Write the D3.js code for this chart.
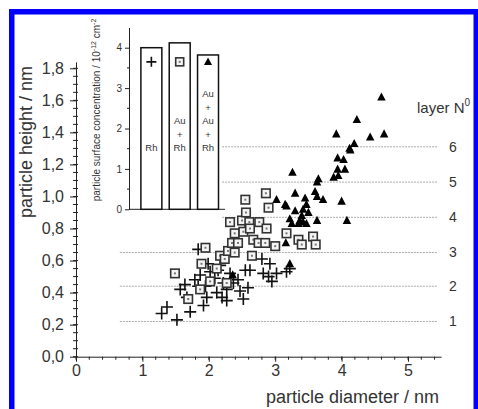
<!DOCTYPE html>
<html><head><meta charset="utf-8">
<script src="https://cdn.jsdelivr.net/npm/d3@7"></script>
<style>html,body{margin:0;padding:0;background:#fff;}svg{display:block;font-family:"Liberation Sans",Arial,sans-serif;}</style>
</head><body>
<svg id="c" width="478" height="409"></svg>
<script>
// ---- data ----
const rhPoints = [[1.29,0.27],[1.37,0.31],[1.52,0.23],[1.72,0.28],[1.92,0.32],[1.84,0.67],[1.79,0.48],[1.84,0.44],[1.67,0.37],[1.97,0.37],[1.99,0.58],[2.02,0.53],[2.09,0.49],[2.14,0.54],[2.27,0.35],[2.27,0.42],[2.22,0.46],[2.32,0.52],[2.37,0.46],[2.44,0.48],[2.52,0.36],[2.59,0.43],[2.55,0.54],[2.62,0.54],[2.80,0.61],[2.92,0.58],[2.82,0.52],[2.90,0.50],[2.95,0.47],[3.02,0.52],[3.17,0.53],[3.22,0.55],[2.17,0.57],[1.87,0.51],[1.64,0.45],[1.57,0.42],[2.12,0.40],[2.47,0.41],[1.95,0.44],[2.20,0.37]];
const auRhPoints = [[1.49,0.52],[1.69,0.36],[1.87,0.42],[2.02,0.47],[1.89,0.58],[1.95,0.68],[2.12,0.55],[2.17,0.63],[2.24,0.61],[2.29,0.66],[2.39,0.65],[2.35,0.71],[2.39,0.77],[2.52,0.78],[2.32,0.84],[2.50,0.85],[2.56,0.90],[2.55,0.98],[2.61,0.84],[2.76,0.84],[2.86,1.02],[2.90,0.93],[2.62,0.80],[2.87,0.80],[2.67,0.73],[2.75,0.71],[2.85,0.71],[3.00,0.69],[2.65,0.63],[3.17,0.77],[3.35,0.73],[3.40,0.70],[3.57,0.75],[3.61,0.70],[2.27,0.46],[2.44,0.71]];
const auAuRhPoints = [[4.60,1.62],[4.23,1.48],[3.92,1.39],[4.43,1.37],[4.64,1.39],[4.19,1.33],[4.12,1.30],[4.13,1.29],[3.94,1.24],[4.03,1.23],[3.94,1.17],[4.05,1.17],[3.95,1.13],[3.88,1.12],[3.26,1.15],[3.65,1.11],[3.63,1.09],[3.60,1.03],[3.30,1.02],[3.02,0.98],[3.15,0.95],[3.17,0.94],[3.45,0.99],[3.63,1.00],[3.72,0.98],[4.00,0.97],[3.47,0.95],[3.42,0.92],[3.30,0.91],[3.50,0.90],[3.40,0.88],[3.22,0.86],[3.25,0.83],[3.37,0.85],[3.42,0.84],[3.47,0.83],[3.35,0.83],[3.63,0.85],[4.08,0.85],[3.16,0.71],[3.22,0.58],[2.36,0.51]];
const layerNumbers = [1,2,3,4,5,6];
const layerHeights = [0.22,0.44,0.65,0.87,1.09,1.31];
const xTicks = [0,1,2,3,4,5];
const yTicks = [0,0.2,0.4,0.6,0.8,1.0,1.2,1.4,1.6,1.8];
const insetCategories = ["Rh","Au+Rh","Au+Au+Rh"];
const insetValues = [4.0,4.12,3.82];
const insetMarkers = ["cross","square","triangle"];
const insetLabels = [["Rh"],["Au","+","Rh"],["Au","+","Au","+","Rh"]];
const insetTicks = [0,1,2,3,4];

// ---- drawing ----
const svg = d3.select("#c");
const x = d3.scaleLinear().domain([0,5.5]).range([76,441.2]);
const y = d3.scaleLinear().domain([0,1.84]).range([356.7,61.9]);
const txt = "#333";

function cross(g, cx, cy, h) {
  g.append("path").attr("d",`M${cx-h},${cy}H${cx+h}M${cx},${cy-h}V${cy+h}`)
   .attr("stroke","#111").attr("stroke-width",1.6).attr("fill","none");
}
function square(g, cx, cy, s) {
  g.append("rect").attr("x",cx-s/2).attr("y",cy-s/2).attr("width",s).attr("height",s)
   .attr("fill","#f4f4f4").attr("stroke","#333").attr("stroke-width",1.6);
  g.append("rect").attr("x",cx-1).attr("y",cy-1).attr("width",2).attr("height",2).attr("fill","#777");
}
function tri(g, cx, cy, s) {
  g.append("path").attr("d",`M${cx},${cy-s*0.55}L${cx+s/2},${cy+s*0.4}L${cx-s/2},${cy+s*0.4}Z`).attr("fill","#000");
}

// layer lines
const layerG = svg.append("g");
layerHeights.forEach((h,i)=>{
  const x0 = layerNumbers[i] <= 3 ? x(0.66) : x(2.2);
  layerG.append("line").attr("x1",x0).attr("x2",x(5.45)).attr("y1",y(h)).attr("y2",y(h))
    .attr("stroke","#aaa").attr("stroke-width",1).attr("stroke-dasharray","2,1");
  layerG.append("text").attr("x",453).attr("y",y(h)).attr("dy","0.35em").attr("text-anchor","middle")
    .attr("font-size",14).attr("fill",txt).text(layerNumbers[i]);
});
const lt = svg.append("text").attr("x",417).attr("y",113).attr("font-size",15).attr("fill",txt);
lt.append("tspan").text("layer N");
lt.append("tspan").attr("font-size",10).attr("dy",-7).text("0");

// axes
const yAxis = svg.append("g").attr("transform",`translate(${x(0)},0)`)
  .call(d3.axisLeft(y).tickValues(yTicks).tickSize(6).tickSizeOuter(0).tickPadding(6)
    .tickFormat(d=>d3.format(".1f")(d).replace(".",",")));
const xAxis = svg.append("g").attr("transform",`translate(0,${y(0)})`)
  .call(d3.axisBottom(x).tickValues(xTicks).tickSize(5).tickSizeOuter(0).tickPadding(3).tickFormat(d3.format("d")));
[yAxis,xAxis].forEach(a=>{
  a.selectAll("text").attr("font-size",16).attr("fill",txt).attr("font-family",'"Liberation Sans",Arial,sans-serif');
  a.selectAll("line,path").attr("stroke","#222");
});
// minor ticks
d3.range(0,1.84,0.05).forEach(v=>{
  svg.append("line").attr("x1",x(0)-3).attr("x2",x(0)+2).attr("y1",y(v)).attr("y2",y(v)).attr("stroke","#222");
});
d3.range(0,5.5,0.2).forEach(v=>{
  svg.append("line").attr("y1",y(0)).attr("y2",y(0)+3).attr("x1",x(v)).attr("x2",x(v)).attr("stroke","#222");
});

svg.append("text").attr("transform","translate(32,142) rotate(-90)").attr("text-anchor","middle")
  .attr("font-size",18).attr("fill",txt).text("particle height / nm");
svg.append("text").attr("x",439).attr("y",403).attr("text-anchor","end")
  .attr("font-size",18).attr("fill",txt).text("particle diameter / nm");

// scatter
const sg = svg.append("g");
rhPoints.forEach(d=>cross(sg,x(d[0]),y(d[1]),6));
auRhPoints.forEach(d=>square(sg,x(d[0]),y(d[1]),8.5));
auAuRhPoints.forEach(d=>tri(sg,x(d[0]),y(d[1]),8.5));

// inset
const iy = d3.scaleLinear().domain([0,4.5]).range([209.3,27.5]);
const ix = d3.scaleBand().domain(insetCategories).range([129,230.4]).paddingInner(0.26).paddingOuter(0.42);
const ig = svg.append("g");
const iAxis = ig.append("g").attr("transform","translate(129,0)")
  .call(d3.axisLeft(iy).tickValues(insetTicks).tickSize(4).tickSizeOuter(0).tickPadding(3).tickFormat(d3.format("d")));
iAxis.selectAll("text").attr("font-size",10).attr("fill",txt).attr("font-family",'"Liberation Sans",Arial,sans-serif');
iAxis.selectAll("line,path").attr("stroke","#222");
d3.range(0.5,4.5,1).forEach(v=>{
  ig.append("line").attr("x1",127).attr("x2",129).attr("y1",iy(v)).attr("y2",iy(v)).attr("stroke","#222");
});
ig.append("line").attr("x1",129).attr("x2",225).attr("y1",iy(0)).attr("y2",iy(0)).attr("stroke","#222");
ig.selectAll("rect.bar").data(insetValues).join("rect").attr("class","bar")
  .attr("x",(d,i)=>ix(insetCategories[i])).attr("width",ix.bandwidth())
  .attr("y",d=>iy(d)).attr("height",d=>iy(0)-iy(d))
  .attr("fill","#fff").attr("stroke","#111").attr("stroke-width",1.5);
insetCategories.forEach((c,i)=>{
  const cx = ix(c)+ix.bandwidth()/2, cy = iy(3.65);
  if (insetMarkers[i]==="cross") cross(ig,cx,cy,5);
  else if (insetMarkers[i]==="square") square(ig,cx,cy,8);
  else tri(ig,cx,cy,8);
  const lines = insetLabels[i];
  lines.forEach((l,j)=>{
    const k = lines.length-1-j;
    ig.append("text").attr("x",cx).attr("y",iy(1.52)-k*13.5).attr("dy","0.35em").attr("text-anchor","middle")
      .attr("font-size",9.5).attr("fill",txt).text(l);
  });
});
const il = ig.append("text").attr("transform","translate(100,110) rotate(-90)").attr("text-anchor","middle")
  .attr("font-size",10).attr("fill",txt);
il.append("tspan").text("particle surface concentration / 10");
il.append("tspan").attr("font-size",7).attr("dy",-4).text("-12");
il.append("tspan").attr("dy",4).text(" cm");
il.append("tspan").attr("font-size",7).attr("dy",-4).text("-2");

// blue frame
svg.append("rect").attr("x",11.75).attr("y",11.75).attr("width",464.5).attr("height",430)
  .attr("fill","none").attr("stroke","#0000ff").attr("stroke-width",5.5);
</script>
</body></html>
